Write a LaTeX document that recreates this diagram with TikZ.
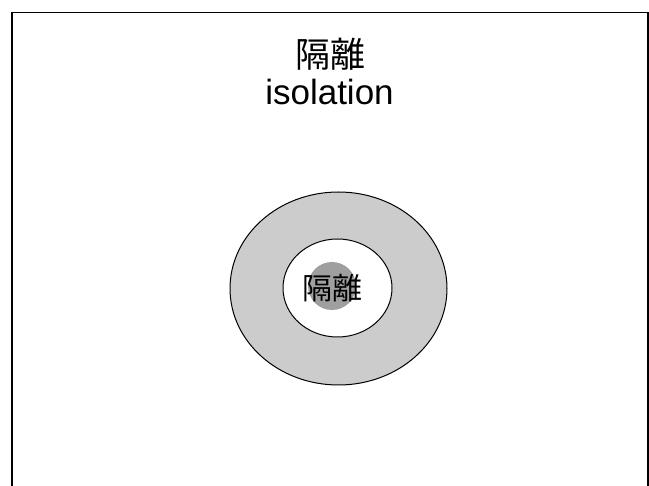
\documentclass[tikz,border=0pt]{standalone}
\usepackage{fontspec}
\setmainfont{Liberation Sans}
\newfontfamily\cjk{Noto Sans CJK JP}
\usetikzlibrary{shapes.geometric}
\begin{document}
\begin{tikzpicture}[x=1pt,y=-1pt,
  ring/.style={ellipse, draw=black, line width=1pt, inner sep=0pt},
  title/.style={font=\fontsize{35}{38}\selectfont, inner sep=0pt}]
\useasboundingbox (0,0) rectangle (649,486);
\fill[white] (0,0) rectangle (649,486);
% frame
\draw[line width=1.8pt] (12,486) -- (12,12.5) -- (648,12.5) -- (648,486);
% titles
\node[title] (t1) at (330,54) {\cjk 隔離};
\node[title, anchor=base] (t2) at (329.5,105) {isolation};
% rings
\node[ring, fill=gray!40, minimum width=217pt, minimum height=193pt] (outer) at (338.5,288.5) {};
\node[ring, fill=white, minimum width=109pt, minimum height=98pt] (inner) at (337.5,288) {};
\node[circle, fill=gray!75, minimum size=48pt, inner sep=0pt] (core) at (332,286) {};
\node[inner sep=0pt, font=\fontsize{30}{32}\selectfont] (lbl) at (332,288) {\cjk 隔離};
\end{tikzpicture}
\end{document}
